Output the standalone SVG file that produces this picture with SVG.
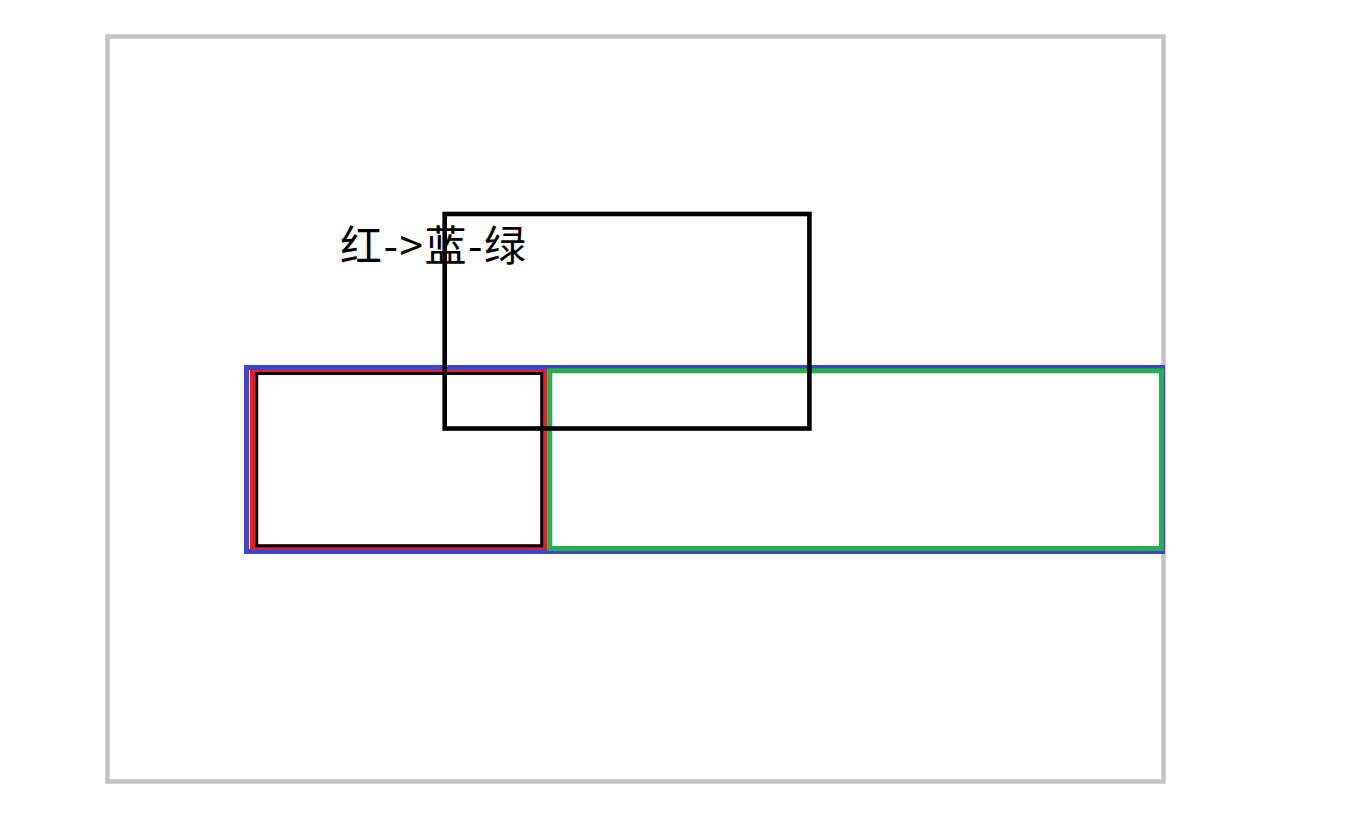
<svg xmlns="http://www.w3.org/2000/svg" width="1370" height="838" viewBox="0 0 1370 838">
<style>
.box{fill:none}
.lbl{font-family:"Noto Sans CJK SC","Liberation Sans",sans-serif;font-size:42px;letter-spacing:1.5px;fill:#000}
</style>
<rect width="1370" height="838" fill="#fff"/>
<g id="frame"><rect class="box" x="107.5" y="36.5" width="1056" height="745" stroke="#c3c3c3" stroke-width="4.5"/></g>
<g id="blue"><rect class="box" x="246.5" y="367.5" width="916" height="184" stroke="#4046c8" stroke-width="5"/></g>
<g id="red"><rect class="box" x="252.5" y="372.5" width="292.5" height="174.5" stroke="#ec1c24" stroke-width="5"/></g>
<g id="redinner"><rect class="box" x="256.7" y="373.5" width="285" height="172.3" stroke="#000" stroke-width="3"/></g>
<g id="green"><rect class="box" x="549.8" y="370.8" width="611.7" height="177.7" stroke="#22b14c" stroke-width="5"/></g>
<g id="label"><text class="lbl" x="340" y="261">红-&gt;蓝-绿</text></g>
<g id="black"><rect class="box" x="444.7" y="214" width="364.7" height="214.5" stroke="#000" stroke-width="4.6"/></g>
<g id="connectors"></g>
</svg>
